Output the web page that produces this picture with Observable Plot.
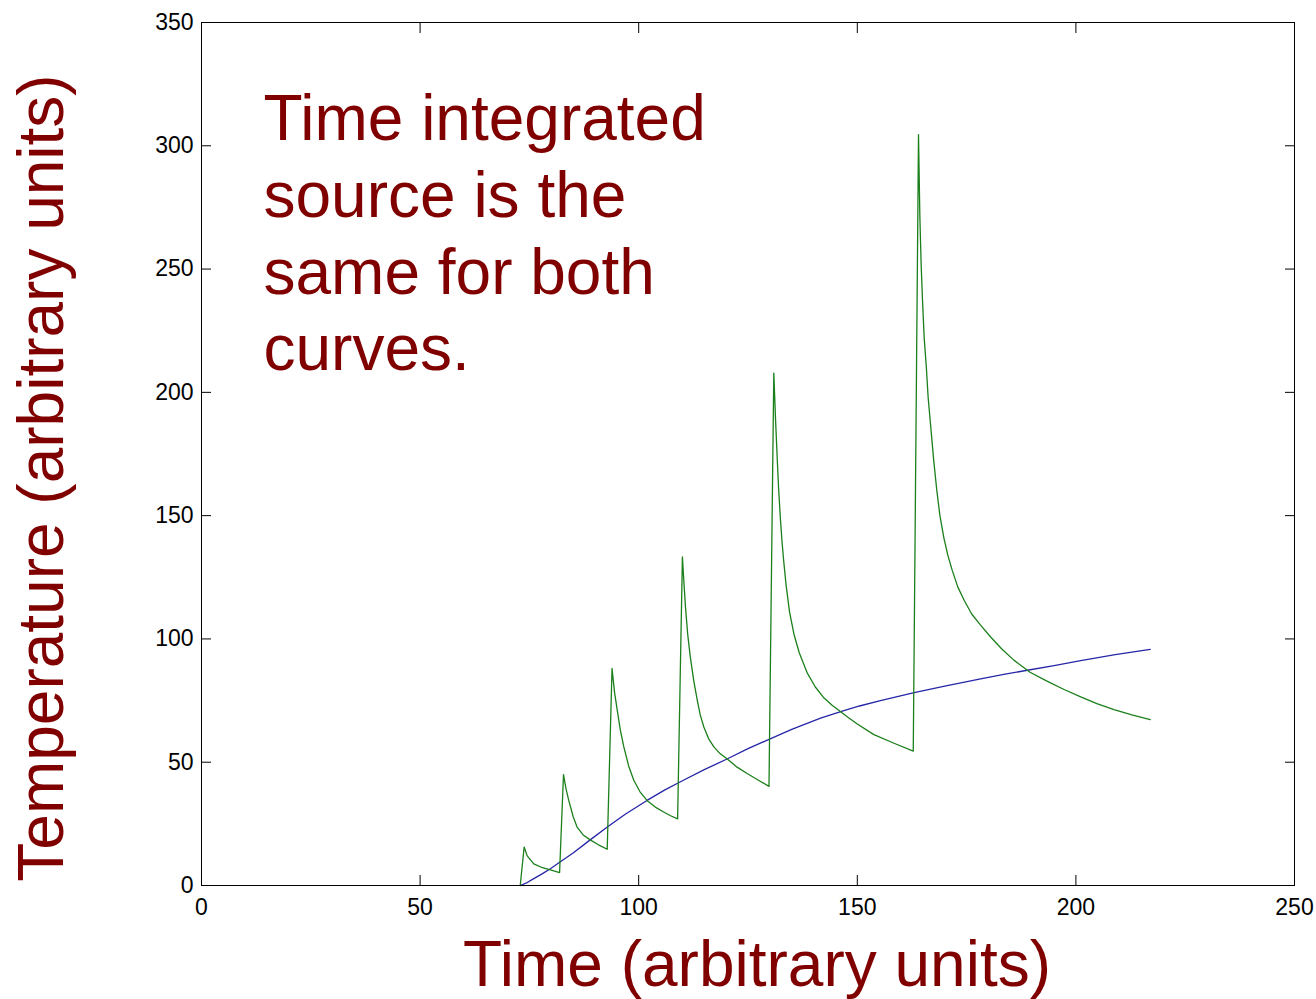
<!DOCTYPE html>
<html><head><meta charset="utf-8">
<script src="https://cdn.jsdelivr.net/npm/d3@7"></script>
<script src="https://cdn.jsdelivr.net/npm/@observablehq/plot@0.6"></script>
<style>body{margin:0;background:#fff} svg{display:block}</style>
</head><body><div id="chart"></div>
<script>
// Pulsed source (green)
const greenTime = [72.9, 73.8, 74.5, 76.0, 78.0, 79.8, 81.9,
  82.8, 83.4, 84.0, 85.0, 85.9, 87.3, 88.9, 90.8, 92.8,
  93.9, 94.2, 94.5, 95.1, 95.8, 96.6, 97.7, 98.9, 100.3, 101.9, 103.8, 105.7, 107.3, 108.9,
  110.0, 110.3, 110.7, 111.2, 111.8, 112.6, 113.4, 114.1, 114.9, 116.0, 117.2, 118.6, 120.2, 122.5, 124.8, 127.3, 129.8,
  130.9, 131.3, 131.7, 132.0, 132.4, 132.8, 133.2, 133.7, 134.5, 135.5, 136.7, 138.6, 140.4, 142.4, 144.3, 146.2, 148.0, 150.0, 153.8, 158.4, 162.8,
  164.0, 164.3, 164.6, 164.9, 165.3, 165.8, 166.2, 166.8, 167.5, 168.2, 168.9, 169.8, 170.7, 171.7, 173.0, 174.5, 176.2, 178.2, 180.5, 183.0, 185.8, 189.5, 193.5, 197.3, 201.1, 204.8, 208.7, 212.8, 217.0];
const greenTemp = [0, 15.6, 12.0, 8.8, 7.2, 6.3, 5.2,
  45.0, 39.0, 34.5, 28.0, 23.7, 20.5, 18.5, 16.5, 14.7,
  88.0, 83.0, 78.0, 71.0, 63.0, 56.2, 48.5, 42.6, 38.0, 34.5, 31.8, 29.8, 28.3, 27.0,
  133.3, 124.0, 113.0, 102.0, 92.7, 83.0, 75.1, 69.0, 64.3, 59.5, 56.2, 53.5, 51.4, 48.0, 45.4, 42.8, 40.2,
  207.8, 189.0, 172.6, 161.0, 149.0, 139.0, 131.0, 122.0, 111.0, 102.0, 94.5, 86.0, 80.5, 76.0, 73.0, 70.5, 68.0, 65.5, 61.2, 57.7, 54.5,
  304.5, 272.0, 252.0, 238.0, 222.0, 210.0, 198.0, 186.0, 172.0, 160.0, 150.0, 141.0, 134.0, 127.9, 121.0, 115.5, 110.0, 105.6, 100.8, 96.0, 91.4, 86.5, 82.8, 79.5, 76.5, 73.8, 71.3, 69.2, 67.3];
// Continuous source (blue)
const blueTime = [72.9, 74.5, 76.0, 78.0, 79.8, 82.0, 85.0, 88.9, 92.9, 97.0, 101.9, 106.0, 110.0, 115.0, 120.2, 125.0, 130.2, 135.0, 141.6, 146.2, 150.5, 155.3, 163.0, 170.0, 178.2, 183.5, 188.9, 195.0, 201.1, 209.0, 217.0];
const blueTemp = [0, 1.2, 2.8, 4.8, 6.8, 9.5, 13.2, 18.5, 23.8, 29.0, 34.5, 38.8, 42.5, 47.0, 51.3, 55.5, 59.6, 63.3, 67.9, 70.5, 72.8, 75.0, 78.2, 80.9, 83.8, 85.6, 87.3, 89.2, 91.2, 93.6, 95.8];

const xTicks = [0, 50, 100, 150, 200, 250];
const yTicks = [0, 50, 100, 150, 200, 250, 300, 350];
const xLabel = "Time (arbitrary units)";
const yLabel = "Temperature (arbitrary units)";
const note = "Time integrated\nsource is the\nsame for both\ncurves.";

const green = greenTime.map((t, i) => ({t, T: greenTemp[i]}));
const blue = blueTime.map((t, i) => ({t, T: blueTemp[i]}));

const darkRed = "#800000";
const chart = Plot.plot({
  width: 1316, height: 999,
  marginLeft: 201, marginRight: 22, marginTop: 22, marginBottom: 114,
  style: {fontFamily: "Arial, 'Liberation Sans', sans-serif", fontSize: "23px", color: "black", background: "white"},
  x: {domain: [0, 250], label: null},
  y: {domain: [0, 350], label: null},
  marks: [
    Plot.axisX({ticks: xTicks, tickSize: -10, tickPadding: 23, label: null, fontSize: 23}),
    Plot.axisX({anchor: "top", ticks: xTicks, tickSize: -10, tickFormat: () => "", label: null}),
    Plot.axisY({ticks: yTicks, tickSize: -10, tickPadding: 18, label: null, fontSize: 23}),
    Plot.axisY({anchor: "right", ticks: yTicks, tickSize: -10, tickFormat: () => "", label: null}),
    Plot.line(blue, {x: "t", y: "T", stroke: "#2626a8", strokeWidth: 1.3}),
    Plot.line(green, {x: "t", y: "T", stroke: "#1b7f1b", strokeWidth: 1.3}),
    Plot.frame({stroke: "black"}),
    Plot.text([note], {frameAnchor: "top-left", text: d => d, dx: 62, dy: 63, lineAnchor: "top", textAnchor: "start", fontSize: 64, fill: darkRed, lineHeight: 1.2}),
    Plot.text([yLabel], {frameAnchor: "left", text: d => d, rotate: -90, dx: -139, dy: 24, lineAnchor: "bottom", textAnchor: "middle", fontSize: 64, fill: darkRed}),
    Plot.text([xLabel], {frameAnchor: "bottom", text: d => d, dx: 9, dy: 100, lineAnchor: "bottom", textAnchor: "middle", fontSize: 64, fill: darkRed})
  ]
});
document.getElementById("chart").append(chart);
</script>
</body></html>
